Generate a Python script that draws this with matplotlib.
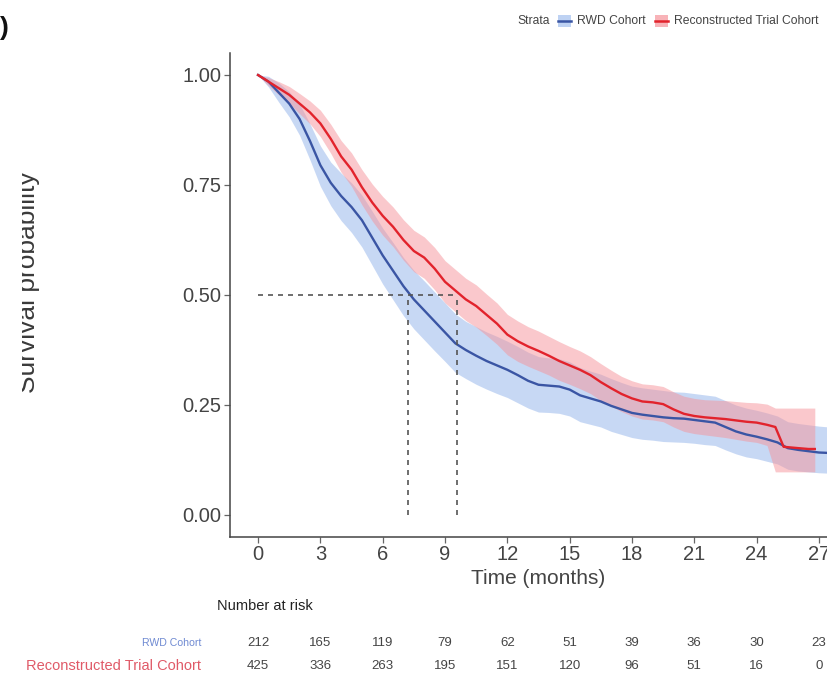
import matplotlib
matplotlib.use("Agg")
import matplotlib.pyplot as plt
from matplotlib.patches import Rectangle
from matplotlib.lines import Line2D
import matplotlib.transforms as mtransforms

plt.rcParams['font.family'] = ['Liberation Sans', 'DejaVu Sans']

# ---------------- data ----------------
rwd_t = [0, 0.5, 1, 1.5, 2, 2.5, 3, 3.5, 4, 4.5, 5, 5.5, 6, 6.5, 7, 7.5, 8, 8.5, 9, 9.5,
         10, 10.5, 11, 11.5, 12, 12.5, 13, 13.5, 14, 14.5, 15, 15.5, 16, 16.5, 17, 17.5,
         18, 18.5, 19, 19.5, 20, 20.5, 21, 21.5, 22, 22.5, 23, 23.5, 24, 24.5, 25, 25.5,
         26, 26.5, 27, 27.5]
rwd_s = [1.0, .985, .96, .935, .90, .85, .795, .755, .725, .70, .67, .63, .59, .555, .52, .49,
         .465, .44, .415, .39, .375, .362, .35, .34, .33, .318, .305, .296, .294, .292, .285,
         .272, .265, .258, .248, .24, .232, .228, .225, .222, .22, .219, .216, .213, .21, .2,
         .19, .183, .178, .172, .165, .152, .148, .145, .142, .141]
rwd_lo = [1.0, .973, .938, .905, .863, .807, .747, .703, .669, .642, .609, .567, .525, .489,
          .453, .423, .398, .373, .349, .324, .31, .297, .286, .276, .267, .255, .243, .234,
          .233, .231, .225, .212, .206, .2, .19, .183, .176, .172, .17, .167, .166, .165,
          .163, .16, .158, .148, .139, .132, .128, .122, .116, .104, .1, .098, .096, .095]
rwd_hi = [1.0, .997, .982, .962, .934, .889, .839, .802, .777, .755, .727, .69, .652, .619,
          .585, .556, .532, .507, .482, .457, .44, .428, .416, .406, .395, .383, .37, .36,
          .357, .355, .348, .335, .327, .32, .31, .301, .293, .289, .286, .283, .28, .279,
          .276, .273, .27, .26, .25, .243, .238, .232, .225, .212, .208, .205, .202, .2]

trial_t = [0, 0.5, 1, 1.5, 2, 2.5, 3, 3.5, 4, 4.5, 5, 5.5, 6, 6.5, 7, 7.5, 8, 8.5, 9, 9.5,
           10, 10.5, 11, 11.5, 12, 12.5, 13, 13.5, 14, 14.5, 15, 15.5, 16, 16.5, 17, 17.5,
           18, 18.5, 19, 19.5, 20, 20.5, 21, 21.5, 22, 22.5, 23, 23.5, 24, 24.5, 24.9, 25.3,
           26, 26.5, 26.8]
trial_s = [1.0, .985, .97, .955, .935, .915, .89, .855, .815, .785, .745, .71, .68, .655,
           .625, .60, .585, .56, .53, .51, .49, .475, .455, .435, .41, .395, .383, .373,
           .362, .35, .34, .33, .318, .302, .288, .275, .265, .258, .256, .252, .24, .23,
           .225, .222, .22, .218, .215, .212, .21, .205, .2, .155, .152, .15, .15]
trial_lo = [1.0, .976, .955, .936, .912, .889, .86, .822, .779, .747, .705, .668, .636, .61,
            .579, .553, .538, .512, .482, .462, .442, .427, .408, .388, .364, .349, .338, .328,
            .318, .306, .297, .287, .276, .26, .247, .235, .225, .218, .216, .212, .2, .19,
            .185, .182, .179, .176, .172, .168, .165, .158, .098, .098, .098, .098, .098]
trial_hi = [1.0, .994, .985, .974, .958, .941, .92, .888, .851, .823, .785, .752, .724, .7,
            .671, .647, .632, .608, .578, .558, .538, .523, .502, .482, .456, .441, .428, .418,
            .406, .394, .383, .373, .36, .344, .329, .315, .305, .298, .296, .292, .28, .27,
            .265, .262, .261, .26, .258, .256, .255, .252, .243, .243, .243, .243, .243]

median_times = [7.2, 9.6]

risk_times = [0, 3, 6, 9, 12, 15, 18, 21, 24, 27]
risk_rwd = [212, 165, 119, 79, 62, 51, 39, 36, 30, 23]
risk_trial = [425, 336, 263, 195, 151, 120, 96, 51, 16, 0]

x_ticks = [0, 3, 6, 9, 12, 15, 18, 21, 24, 27]
y_ticks = [0.00, 0.25, 0.50, 0.75, 1.00]
y_ticklabels = ["0.00", "0.25", "0.50", "0.75", "1.00"]

strata_names = ["RWD Cohort", "Reconstructed Trial Cohort"]

# ---------------- style ----------------
BLUE = "#3A55A4"
RED = "#E2232C"
BLUE_FILL = "#A3BFEE"
RED_FILL = "#F6939A"
TXT = "#444444"

W, H = 828, 683
fig = plt.figure(figsize=(W / 100, H / 100), dpi=100)
fig.patch.set_facecolor("white")

x_left, x_right, y_top, y_bot = 230, 847, 53, 537
ax = fig.add_axes([x_left / W, 1 - y_bot / H, (x_right - x_left) / W, (y_bot - y_top) / H])
ax.set_xlim(-1.35, 28.35)
ax.set_ylim(-0.05, 1.05)

ax.fill_between(rwd_t, rwd_lo, rwd_hi, color=BLUE_FILL, alpha=0.6, lw=0)
ax.fill_between(trial_t, trial_lo, trial_hi, color=RED_FILL, alpha=0.5, lw=0)
ax.plot(rwd_t, rwd_s, color=BLUE, lw=1.7)
ax.plot(trial_t, trial_s, color=RED, lw=1.7)

ax.plot([0, max(median_times)], [0.5, 0.5], color="#555555", lw=1.2, ls=(0, (3, 3)))
for m in median_times:
    ax.plot([m, m], [0, 0.5], color="#555555", lw=1.2, ls=(0, (3, 3)))

ax.set_xticks(x_ticks)
ax.set_xticklabels([str(v) for v in x_ticks])
ax.set_yticks(y_ticks)
ax.set_yticklabels(y_ticklabels)
for s in ["top", "right"]:
    ax.spines[s].set_visible(False)
for s in ["left", "bottom"]:
    ax.spines[s].set_color("#444444")
    ax.spines[s].set_linewidth(1.1)
ax.tick_params(axis="both", colors="#666666", length=4, width=0.9,
               labelsize=14.5, labelcolor=TXT, pad=2)
ax.set_xlabel("Time (months)", fontsize=15, color=TXT, labelpad=3)

# y label, partly cut in the source
ylab = fig.text(28 / W, 1 - 282 / H, "Survival probability", rotation=90, ha="center",
                va="center", fontsize=19, color="#3a3a3a")
ylab.set_clip_box(mtransforms.Bbox.from_extents(22, 0, 60, H))
ylab.set_clip_on(True)

fig.text(0 / W, 1 - 28 / H, ")", fontsize=19, fontweight="bold", ha="left",
         va="center", color="#111111")

# legend on top
fig.canvas.draw()
renderer = fig.canvas.get_renderer()
ly = 1 - 21 / H
x = 517
t0 = fig.text(x / W, ly, "Strata", fontsize=8.7, color=TXT, ha="left", va="center")
x += t0.get_window_extent(renderer).width + 9
for name, col, fcol in [(strata_names[0], BLUE, BLUE_FILL), (strata_names[1], RED, RED_FILL)]:
    fig.patches.append(Rectangle((x / W, ly - 6 / H), 13 / W, 12 / H,
                                 transform=fig.transFigure, color=fcol, alpha=0.7, lw=0))
    fig.lines.append(Line2D([x / W, (x + 13) / W], [ly, ly], transform=fig.transFigure,
                            color=col, lw=1.8))
    x += 19
    tt = fig.text(x / W, ly, name, fontsize=8.7, color=TXT, ha="left", va="center")
    x += tt.get_window_extent(renderer).width + 9

# risk table
tr = mtransforms.blended_transform_factory(ax.transData, fig.transFigure)
fig.text(217 / W, 1 - 606 / H, "Number at risk", fontsize=10.5, color="#222222",
         ha="left", va="center")
rows = [(643, strata_names[0], risk_rwd, "#6F8AD2", 7.6),
        (666, strata_names[1], risk_trial, "#E05A68", 10.5)]
for (yy, name, vals, col, fs) in rows:
    fig.text(201 / W, 1 - yy / H, name, fontsize=fs, color=col, ha="right", va="center")
    for t, v in zip(risk_times, vals):
        ax.text(t, 1 - yy / H, str(v), transform=tr, fontsize=9.5, color=TXT,
                ha="center", va="center", clip_on=False)

fig.savefig("out.png", dpi=100)
